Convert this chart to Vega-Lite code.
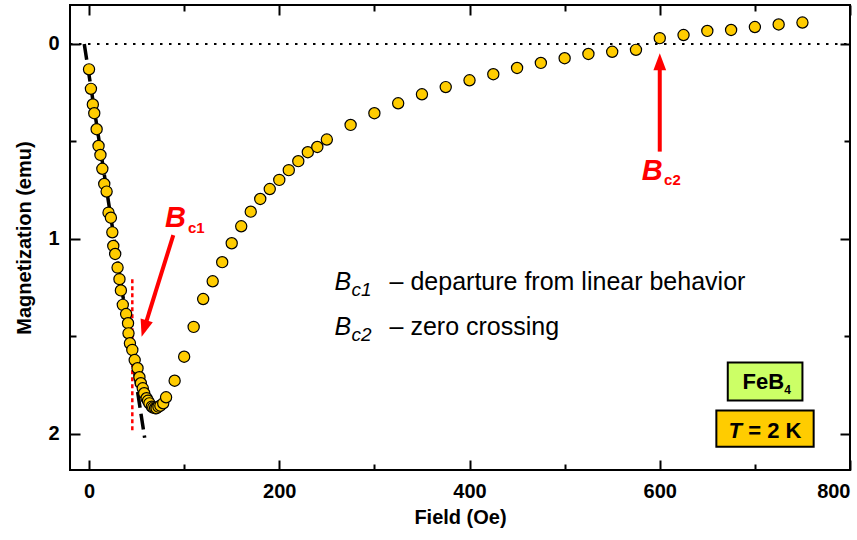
{
  "$schema": "https://vega.github.io/schema/vega-lite/v6.json",
  "width": 780,
  "height": 465,
  "autosize": {"type": "none"},
  "padding": {"left": 70, "top": 5, "right": 7, "bottom": 70},
  "background": "white",
  "config": {"view": {"stroke": "black", "strokeWidth": 2}, "font": "Liberation Sans"},
  "datasets": {
    "pts": [
      {"field": 0, "m": 0.13}, {"field": 2, "m": 0.23}, {"field": 4, "m": 0.31}, {"field": 5.5, "m": 0.355},
      {"field": 8, "m": 0.437}, {"field": 10, "m": 0.523}, {"field": 12, "m": 0.569}, {"field": 14, "m": 0.64},
      {"field": 16, "m": 0.718}, {"field": 18.5, "m": 0.757}, {"field": 20.5, "m": 0.865}, {"field": 23, "m": 0.891},
      {"field": 24.5, "m": 0.966}, {"field": 25.5, "m": 1.036}, {"field": 27.5, "m": 1.077}, {"field": 30, "m": 1.147},
      {"field": 32, "m": 1.206}, {"field": 33.5, "m": 1.264}, {"field": 35.5, "m": 1.338}, {"field": 39, "m": 1.385},
      {"field": 41, "m": 1.432}, {"field": 41.5, "m": 1.484}, {"field": 43, "m": 1.535}, {"field": 45.5, "m": 1.569},
      {"field": 48, "m": 1.621}, {"field": 51, "m": 1.663}, {"field": 53, "m": 1.709}, {"field": 54.5, "m": 1.74},
      {"field": 56.5, "m": 1.766}, {"field": 58, "m": 1.791}, {"field": 60.5, "m": 1.817}, {"field": 62, "m": 1.83},
      {"field": 63.5, "m": 1.843}, {"field": 66, "m": 1.86}, {"field": 67.5, "m": 1.865}, {"field": 69.5, "m": 1.868},
      {"field": 71, "m": 1.868}, {"field": 73, "m": 1.86}, {"field": 75, "m": 1.855}, {"field": 78, "m": 1.843},
      {"field": 81, "m": 1.812},
      {"field": 90, "m": 1.727}, {"field": 100, "m": 1.604}, {"field": 110, "m": 1.451}, {"field": 120, "m": 1.308},
      {"field": 130, "m": 1.217}, {"field": 140, "m": 1.119}, {"field": 150, "m": 1.022}, {"field": 160, "m": 0.935},
      {"field": 170, "m": 0.86}, {"field": 180, "m": 0.795}, {"field": 190, "m": 0.744}, {"field": 200, "m": 0.697},
      {"field": 210, "m": 0.647}, {"field": 220, "m": 0.601}, {"field": 230, "m": 0.555}, {"field": 240, "m": 0.528},
      {"field": 250, "m": 0.49}, {"field": 275, "m": 0.415}, {"field": 300, "m": 0.355}, {"field": 325, "m": 0.304},
      {"field": 350, "m": 0.258}, {"field": 375, "m": 0.221}, {"field": 400, "m": 0.186}, {"field": 425, "m": 0.155},
      {"field": 450, "m": 0.123}, {"field": 475, "m": 0.097}, {"field": 500, "m": 0.073}, {"field": 525, "m": 0.051},
      {"field": 550, "m": 0.04}, {"field": 575, "m": 0.03}, {"field": 600, "m": -0.03}, {"field": 625, "m": -0.046},
      {"field": 650, "m": -0.067}, {"field": 675, "m": -0.072}, {"field": 700, "m": -0.087}, {"field": 725, "m": -0.1},
      {"field": 750, "m": -0.11}
    ]
  },
  "resolve": {"axis": {"x": "independent", "y": "independent"}},
  "layer": [
    {
      "data": {"values": [{"x": -20, "x2": 800, "y": 0}]},
      "mark": {"type": "rule", "color": "black", "strokeWidth": 2, "strokeDash": [2.5, 6.5]},
      "encoding": {
        "x": {"field": "x", "type": "quantitative", "scale": {"domain": [-20, 800], "nice": false, "zero": false},
          "axis": {"orient": "top", "values": [0, 100, 200, 300, 400, 500, 600, 700, 800],
            "tickSize": {"condition": {"test": "datum.value % 200 === 0", "value": -10}, "value": -6},
            "tickWidth": 2, "tickColor": "black", "domain": false, "grid": false, "labels": false, "title": null}},
        "x2": {"field": "x2"},
        "y": {"field": "y", "type": "quantitative", "scale": {"domain": [-0.2, 2.185], "reverse": true, "nice": false, "zero": false},
          "axis": {"orient": "right", "values": [0, 0.5, 1, 1.5, 2],
            "tickSize": {"condition": {"test": "datum.value % 1 === 0", "value": -10}, "value": -6},
            "tickWidth": 2, "tickColor": "black", "domain": false, "grid": false, "labels": false, "title": null}}
      }
    },
    {
      "data": {"values": [{"x": -5, "y": 0, "x2": 58.5, "y2": 2.02}]},
      "mark": {"type": "rule", "color": "black", "strokeWidth": 3.5, "strokeDash": [16, 6]},
      "encoding": {
        "x": {"field": "x", "type": "quantitative", "axis": null},
        "y": {"field": "y", "type": "quantitative", "axis": null},
        "x2": {"field": "x2"},
        "y2": {"field": "y2"}
      }
    },
    {
      "data": {"values": [{"x": 45.5, "y": 1.207, "y2": 1.988}]},
      "mark": {"type": "rule", "color": "#ff0000", "strokeWidth": 2.5, "strokeDash": [4, 3]},
      "encoding": {
        "x": {"field": "x", "type": "quantitative", "axis": null},
        "y": {"field": "y", "type": "quantitative", "axis": null},
        "y2": {"field": "y2"}
      }
    },
    {
      "data": {"name": "pts"},
      "mark": {"type": "point", "shape": "circle", "filled": true, "size": 125, "fill": "#ffcc00", "stroke": "black", "strokeWidth": 1.2, "opacity": 1},
      "encoding": {
        "x": {"field": "field", "type": "quantitative", "scale": {"domain": [-20, 800], "nice": false, "zero": false},
          "axis": {"orient": "bottom", "values": [0, 100, 200, 300, 400, 500, 600, 700, 800],
            "tickSize": {"condition": {"test": "datum.value % 200 === 0", "value": -10}, "value": -6},
            "tickWidth": 2, "tickColor": "black", "domain": false, "grid": false,
            "labelExpr": "datum.value % 200 === 0 ? datum.label : ''",
            "labelFont": "Liberation Sans", "labelFontSize": 20, "labelFontWeight": "bold", "labelColor": "black", "labelPadding": 21,
            "title": "Field (Oe)", "titleFont": "Liberation Sans", "titleFontSize": 20, "titleFontWeight": "bold", "titleColor": "black", "titlePadding": 6}},
        "y": {"field": "m", "type": "quantitative", "scale": {"domain": [-0.2, 2.185], "reverse": true, "nice": false, "zero": false},
          "axis": {"orient": "left", "values": [0, 0.5, 1, 1.5, 2],
            "tickSize": {"condition": {"test": "datum.value % 1 === 0", "value": -10}, "value": -6},
            "tickWidth": 2, "tickColor": "black", "domain": false, "grid": false,
            "labelExpr": "datum.value % 1 === 0 ? format(datum.value, 'd') : ''",
            "labelFont": "Liberation Sans", "labelFontSize": 20, "labelFontWeight": "bold", "labelColor": "black", "labelPadding": 21,
            "title": "Magnetization (emu)", "titleFont": "Liberation Sans", "titleFontSize": 20, "titleFontWeight": "bold", "titleColor": "black", "titlePadding": 13}}
      }
    },
    {
      "data": {"values": [{"x": 88.6, "y": 0.98, "x2": 59.1, "y2": 1.442}, {"x": 600, "y": 0.552, "x2": 600, "y2": 0.11}]},
      "mark": {"type": "rule", "color": "#ff0000", "strokeWidth": 4},
      "encoding": {
        "x": {"field": "x", "type": "quantitative", "axis": null},
        "y": {"field": "y", "type": "quantitative", "axis": null},
        "x2": {"field": "x2"},
        "y2": {"field": "y2"}
      }
    },
    {
      "data": {"values": [{"x": 55.3, "y": 1.501}]},
      "mark": {"type": "point", "shape": "M0,0L0.75,2L-0.75,2Z", "filled": true, "size": 289, "color": "#ff0000", "opacity": 1, "angle": 197.4},
      "encoding": {
        "x": {"field": "x", "type": "quantitative", "axis": null},
        "y": {"field": "y", "type": "quantitative", "axis": null}
      }
    },
    {
      "data": {"values": [{"x": 600, "y": 0.048}]},
      "mark": {"type": "point", "shape": "M0,0L0.75,2L-0.75,2Z", "filled": true, "size": 289, "color": "#ff0000", "opacity": 1, "angle": 0},
      "encoding": {
        "x": {"field": "x", "type": "quantitative", "axis": null},
        "y": {"field": "y", "type": "quantitative", "axis": null}
      }
    },
    {
      "data": {"values": [{"x": 80, "y": 0.937, "t": "B"}, {"x": 581, "y": 0.697, "t": "B"}]},
      "mark": {"type": "text", "align": "left", "baseline": "alphabetic", "font": "Liberation Sans", "fontSize": 29, "fontWeight": "bold", "fontStyle": "italic", "color": "#ff0000"},
      "encoding": {
        "x": {"field": "x", "type": "quantitative", "axis": null},
        "y": {"field": "y", "type": "quantitative", "axis": null},
        "text": {"field": "t"}
      }
    },
    {
      "data": {"values": [{"x": 104, "y": 0.968, "t": "c1"}, {"x": 604.5, "y": 0.723, "t": "c2"}]},
      "mark": {"type": "text", "align": "left", "baseline": "alphabetic", "font": "Liberation Sans", "fontSize": 15, "fontWeight": "bold", "color": "#ff0000"},
      "encoding": {
        "x": {"field": "x", "type": "quantitative", "axis": null},
        "y": {"field": "y", "type": "quantitative", "axis": null},
        "text": {"field": "t"}
      }
    },
    {
      "data": {"values": [{"x": 258, "y": 1.264, "t": "B"}, {"x": 258, "y": 1.493, "t": "B"}]},
      "mark": {"type": "text", "align": "left", "baseline": "alphabetic", "font": "Liberation Sans", "fontSize": 25, "fontStyle": "italic", "color": "black"},
      "encoding": {
        "x": {"field": "x", "type": "quantitative", "axis": null},
        "y": {"field": "y", "type": "quantitative", "axis": null},
        "text": {"field": "t"}
      }
    },
    {
      "data": {"values": [{"x": 276, "y": 1.292, "t": "c1"}, {"x": 276, "y": 1.521, "t": "c2"}]},
      "mark": {"type": "text", "align": "left", "baseline": "alphabetic", "font": "Liberation Sans", "fontSize": 19, "fontStyle": "italic", "color": "black"},
      "encoding": {
        "x": {"field": "x", "type": "quantitative", "axis": null},
        "y": {"field": "y", "type": "quantitative", "axis": null},
        "text": {"field": "t"}
      }
    },
    {
      "data": {"values": [{"x": 316, "y": 1.264, "t": "– departure from linear behavior"}, {"x": 316, "y": 1.493, "t": "– zero crossing"}]},
      "mark": {"type": "text", "align": "left", "baseline": "alphabetic", "font": "Liberation Sans", "fontSize": 25, "color": "black"},
      "encoding": {
        "x": {"field": "x", "type": "quantitative", "axis": null},
        "y": {"field": "y", "type": "quantitative", "axis": null},
        "text": {"field": "t"}
      }
    },
    {
      "data": {"values": [{"x": 671.5, "x2": 750, "y": 1.633, "y2": 1.829}]},
      "mark": {"type": "rect", "fill": "#ccff66", "stroke": "black", "strokeWidth": 2},
      "encoding": {
        "x": {"field": "x", "type": "quantitative", "axis": null},
        "x2": {"field": "x2"},
        "y": {"field": "y", "type": "quantitative", "axis": null},
        "y2": {"field": "y2"}
      }
    },
    {
      "data": {"values": [{"x": 659.5, "x2": 761.8, "y": 1.88, "y2": 2.066}]},
      "mark": {"type": "rect", "fill": "#ffcc00", "stroke": "black", "strokeWidth": 2},
      "encoding": {
        "x": {"field": "x", "type": "quantitative", "axis": null},
        "x2": {"field": "x2"},
        "y": {"field": "y", "type": "quantitative", "axis": null},
        "y2": {"field": "y2"}
      }
    },
    {
      "data": {"values": [{"x": 687, "y": 1.771, "t": "FeB"}, {"x": 693, "y": 2.022, "t": "= 2 K"}]},
      "mark": {"type": "text", "align": "left", "baseline": "alphabetic", "font": "Liberation Sans", "fontSize": 22, "fontWeight": "bold", "color": "black"},
      "encoding": {
        "x": {"field": "x", "type": "quantitative", "axis": null},
        "y": {"field": "y", "type": "quantitative", "axis": null},
        "text": {"field": "t"}
      }
    },
    {
      "data": {"values": [{"x": 731, "y": 1.795, "t": "4"}]},
      "mark": {"type": "text", "align": "left", "baseline": "alphabetic", "font": "Liberation Sans", "fontSize": 12, "fontWeight": "bold", "color": "black"},
      "encoding": {
        "x": {"field": "x", "type": "quantitative", "axis": null},
        "y": {"field": "y", "type": "quantitative", "axis": null},
        "text": {"field": "t"}
      }
    },
    {
      "data": {"values": [{"x": 672.3, "y": 2.022, "t": "T"}]},
      "mark": {"type": "text", "align": "left", "baseline": "alphabetic", "font": "Liberation Sans", "fontSize": 22, "fontWeight": "bold", "fontStyle": "italic", "color": "black"},
      "encoding": {
        "x": {"field": "x", "type": "quantitative", "axis": null},
        "y": {"field": "y", "type": "quantitative", "axis": null},
        "text": {"field": "t"}
      }
    }
  ]
}
